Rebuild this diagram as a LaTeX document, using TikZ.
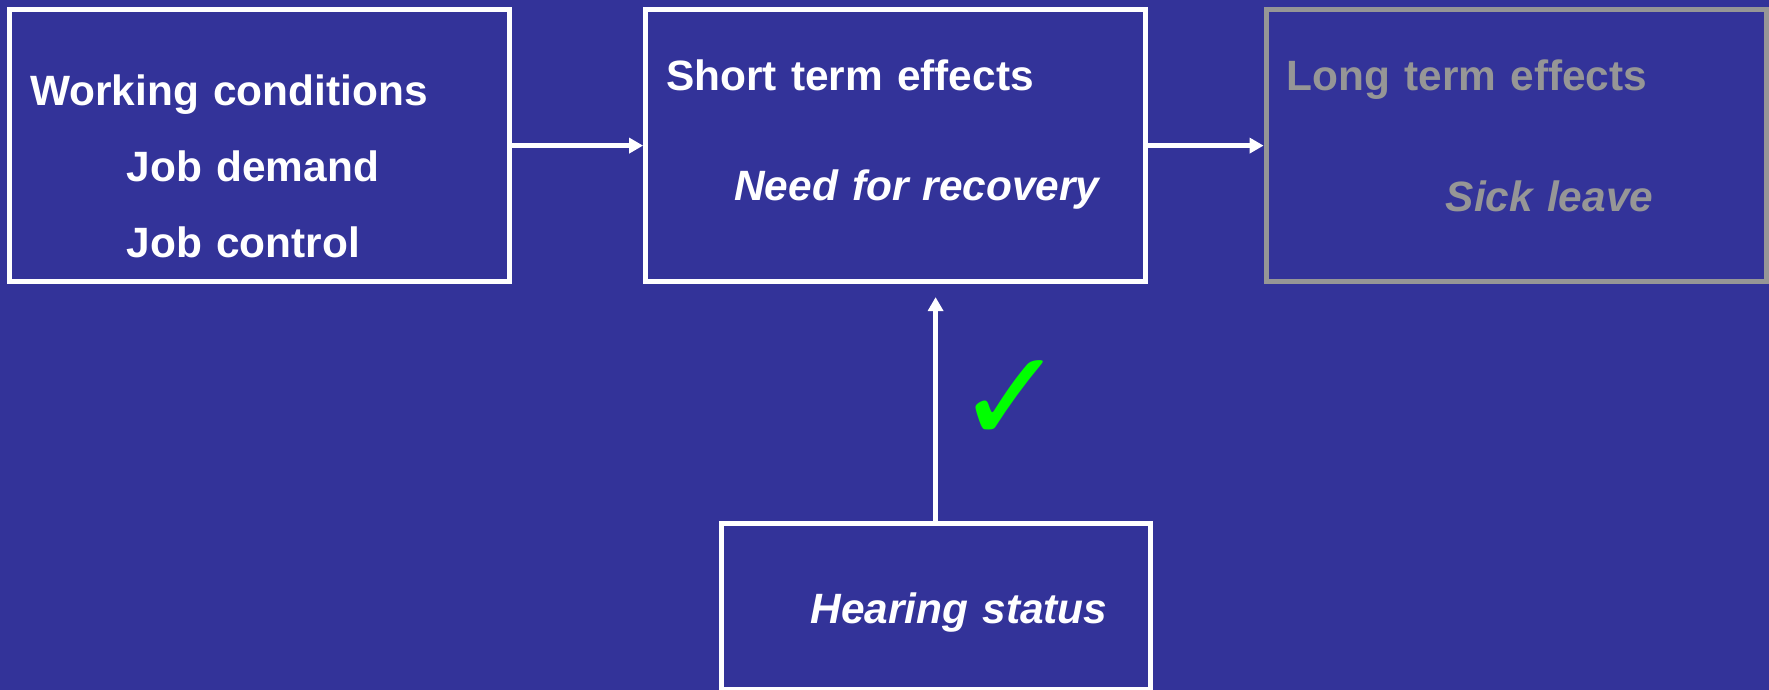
\documentclass[tikz,border=0pt]{standalone}
\usepackage{fontspec}
\setmainfont{Liberation Sans}
\newfontfamily\tickfont{DejaVu Sans}
\usetikzlibrary{positioning,arrows.meta}

\definecolor{slideblue}{RGB}{51,51,153}
\definecolor{dimgray}{RGB}{150,150,150}
\definecolor{tickgreen}{RGB}{0,255,0}

\begin{document}
\begin{tikzpicture}[
    node distance=60pt,
    stage/.style={rectangle, draw=white, text=white, line width=2.5pt, minimum width=250pt, minimum height=136pt, text width=229.3pt, inner xsep=0pt, align=left, text height=0pt, font=\fontsize{21.2pt}{38pt}\selectfont\bfseries},
    faded/.style={draw=dimgray, text=dimgray},
    arrow/.style={-{Triangle[length=7pt, width=7.5pt]}, line width=2.5pt, draw=white}
]

% Background
\path[use as bounding box, fill=slideblue] (-129.8pt,-272.2pt) rectangle (754.7pt,72.8pt);

% Stages
\node[stage, text depth=39.6pt] (work) at (0,0) {Working conditions\\\hspace*{48.3pt}Job demand\\\hspace*{48.3pt}Job control};
\node[stage, text depth=54.6pt, right=65.5pt of work] (short) {Short term effects\\[16.85pt]\hspace*{34pt}{\itshape Need for recovery}};
\node[stage, faded, text depth=54.6pt, right=57.75pt of short] (long) {Long term effects\\[22.5pt]\hspace*{79.5pt}{\itshape Sick leave}};

% Moderator
\node[stage, minimum width=214.5pt, minimum height=83pt, text width=193.8pt, text height=17pt, text depth=0pt, below=118.25pt of short, xshift=20pt] (hear) {\hspace*{34.4pt}{\itshape Hearing status}};

% Arrows
\draw[arrow] (work) -- (short);
\draw[arrow] (short) -- (long);
\draw[arrow, shorten >=6.5pt] (hear.north) -- (hear.north |- short.south);

% Tick
\node[text=tickgreen, font=\tickfont\fontsize{65pt}{65pt}\selectfont, inner sep=0pt] (tick) at (375.5pt,-128pt) {✓};

\end{tikzpicture}
\end{document}
